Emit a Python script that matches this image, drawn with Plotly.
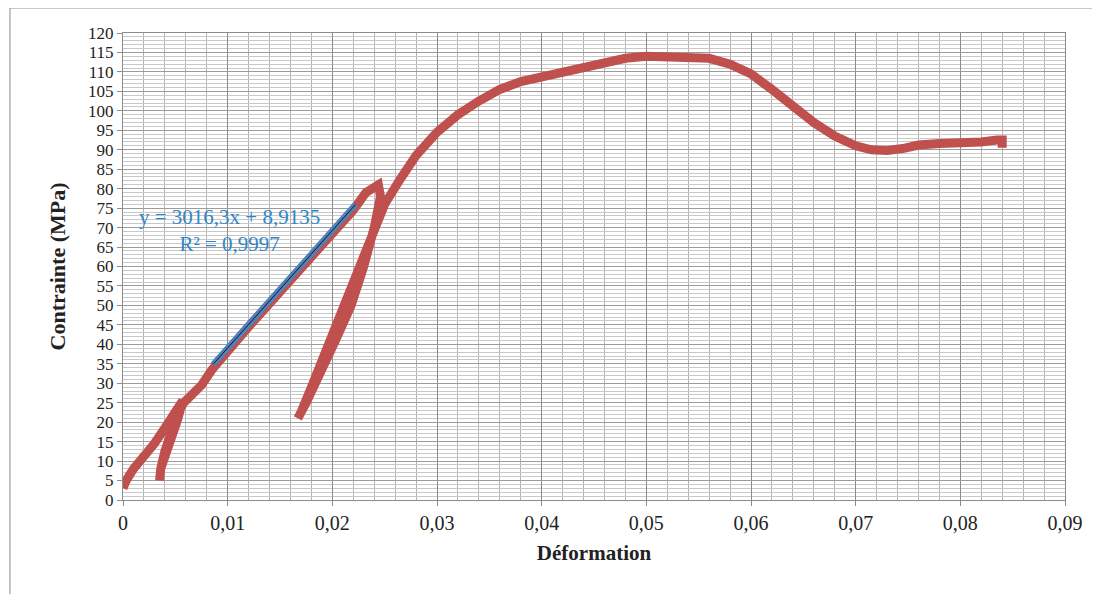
import plotly.graph_objects as go

# Stress-strain curve
strain = [0.0000, 0.0003, 0.0010, 0.0020, 0.0030, 0.0040, 0.0050, 0.0057,
          0.0052, 0.0045, 0.0039, 0.0036, 0.0035, 0.0036, 0.0040, 0.0046,
          0.0052, 0.0058, 0.0065, 0.0075, 0.0085, 0.0100, 0.0120, 0.0140,
          0.0160, 0.0180, 0.0200, 0.0220, 0.0232, 0.0244, 0.0246, 0.0240,
          0.0230, 0.0218, 0.0203, 0.0188, 0.0175, 0.0167, 0.0170, 0.0180,
          0.0192, 0.0207, 0.0222, 0.0237, 0.0250, 0.0265, 0.0280, 0.0300,
          0.0320, 0.0340, 0.0360, 0.0380, 0.0400, 0.0420, 0.0440, 0.0460,
          0.0480, 0.0500, 0.0520, 0.0540, 0.0560, 0.0580, 0.0600, 0.0620,
          0.0640, 0.0660, 0.0680, 0.0700, 0.0715, 0.0730, 0.0745, 0.0760,
          0.0780, 0.0800, 0.0820, 0.0835, 0.0840, 0.0840]
stress = [3.0, 5.0, 8.0, 11.0, 14.5, 18.5, 22.5, 25.5,
          20.5, 15.0, 11.0, 8.0, 5.0, 8.0, 12.5, 17.5,
          22.0, 25.0, 27.0, 29.5, 33.5, 38.5, 44.5, 50.5,
          56.5, 62.5, 68.5, 74.5, 79.0, 81.0, 78.0, 70.0,
          60.0, 50.0, 41.0, 32.0, 25.0, 21.0, 22.5, 29.0,
          37.0, 46.0, 56.0, 67.0, 76.0, 82.5, 88.5, 94.5,
          99.0, 102.5, 105.5, 107.5, 108.8, 110.0, 111.2, 112.5,
          113.5, 114.0, 114.0, 113.9, 113.5, 112.0, 109.5, 105.5,
          101.0, 97.0, 93.5, 91.0, 90.0, 89.8, 90.3, 91.2,
          91.6, 91.7, 92.0, 92.5, 92.5, 90.5]

# Linear trend segment
trend_x = [0.0086, 0.0222]
trend_y = [34.85, 75.9]

x_ticks = [0, 0.01, 0.02, 0.03, 0.04, 0.05, 0.06, 0.07, 0.08, 0.09]
x_labels = ["0", "0,01", "0,02", "0,03", "0,04", "0,05", "0,06", "0,07", "0,08", "0,09"]
y_ticks = list(range(0, 125, 5))

eq_text = "y = 3016,3x + 8,9135<br>R² = 0,9997"

FONT = "Liberation Serif, Times New Roman, serif"

fig = go.Figure()
fig.add_trace(go.Scatter(x=strain, y=stress, mode="lines",
                         line=dict(color="#C0504D", width=9),
                         showlegend=False, hoverinfo="skip"))
fig.add_trace(go.Scatter(x=trend_x, y=trend_y, mode="lines",
                         line=dict(color="#4F81BD", width=6),
                         showlegend=False, hoverinfo="skip"))
fig.add_trace(go.Scatter(x=trend_x, y=trend_y, mode="lines",
                         line=dict(color="#1a1a1a", width=1),
                         showlegend=False, hoverinfo="skip"))

fig.add_annotation(x=0.01022, y=69.2, xref="x", yref="y", text=eq_text,
                   showarrow=False, align="center",
                   font=dict(family=FONT, size=21, color="#2E86C8"))

# outer chart frame (cropped)
fig.add_shape(type="rect", xref="paper", yref="paper",
              x0=-0.12, x1=1.05, y0=-0.25, y1=1.0536,
              line=dict(color="#8a8a8a", width=1), layer="below")

fig.update_layout(
    width=1100, height=594,
    margin=dict(l=115, r=43, t=25, b=102),
    paper_bgcolor="white", plot_bgcolor="white",
    font=dict(family=FONT, size=20, color="#222"),
    xaxis=dict(range=[0, 0.09], tickvals=x_ticks, ticktext=x_labels,
               showgrid=True, gridcolor="#8c8c8c", gridwidth=1,
               minor=dict(dtick=0.002, showgrid=True, gridcolor="#b4b4b4", gridwidth=1),
               showline=True, linecolor="#8c8c8c", mirror=True,
               ticks="outside", ticklen=5, tickcolor="#8c8c8c",
               zeroline=False, tickfont=dict(size=20),
               title=dict(text="<b>Déformation</b>", font=dict(size=21), standoff=12)),
    yaxis=dict(range=[0, 120], tickvals=y_ticks,
               showgrid=True, gridcolor="#9c9c9c", gridwidth=1,
               minor=dict(dtick=1, showgrid=True, gridcolor="#c8c8c8", gridwidth=1),
               showline=True, linecolor="#8c8c8c", mirror=True,
               ticks="outside", ticklen=5, tickcolor="#8c8c8c",
               zeroline=False, tickfont=dict(size=17),
               title=dict(text="<b>Contrainte (MPa)</b>", font=dict(size=22), standoff=16)),
)

fig.write_html("out.html")
